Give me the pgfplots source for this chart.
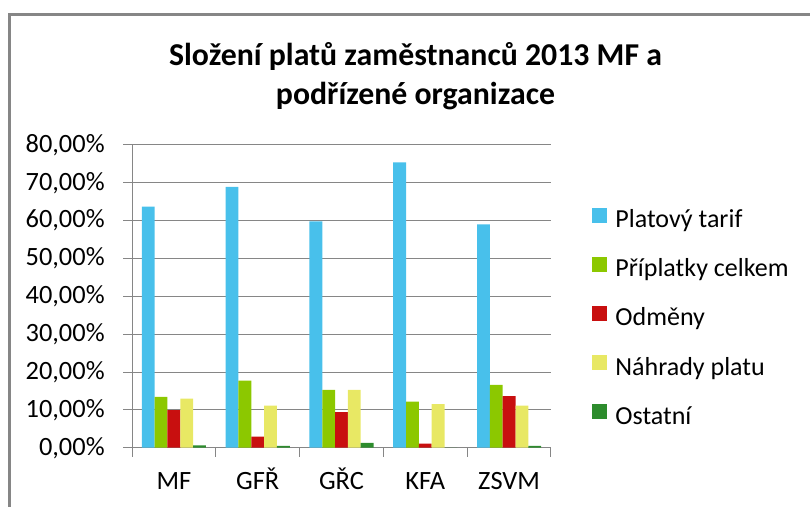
\documentclass[border=0pt]{standalone}
\usepackage{pgfplots}
\pgfplotsset{compat=1.18}
\usepackage{fontspec}
\setmainfont{Carlito}
\definecolor{cBlue}{RGB}{72,192,235}
\definecolor{cGreen}{RGB}{140,200,0}
\definecolor{cRed}{RGB}{200,15,15}
\definecolor{cYel}{RGB}{232,232,100}
\definecolor{cDkG}{RGB}{45,140,45}
\definecolor{gridg}{RGB}{134,134,134}
\begin{document}
\begin{tikzpicture}
\useasboundingbox (0,0) rectangle (405bp,253.5bp);
\begin{axis}[
  at={(66bp,29.65bp)}, anchor=south west,
  scale only axis, width=209.5bp, height=151.35bp,
  ybar=0pt, bar width=0.153,
  xmin=-0.5, xmax=4.5, ymin=0, ymax=80,
  axis lines*=left,
  axis line style={gridg, line width=0.5bp},
  tick style={gridg, line width=0.5bp},
  tick align=outside, major tick length=4.5bp,
  xtick={-0.5,0.5,...,4.5}, x tick label as interval,
  xticklabels={MF,GFŘ,GŘC,KFA,ZSVM},
  ytick={0,10,...,80},
  yticklabel={\pgfmathprintnumber[fixed,fixed zerofill,precision=2,use comma]{\tick}\%},
  /pgf/number format/assume math mode=true,
  ymajorgrids, major grid style={gridg, line width=0.5bp},
  ticklabel style={font=\fontsize{13.2bp}{15bp}\selectfont, inner sep=0pt},
  xticklabel style={text height=9bp, text depth=0pt, anchor=north, yshift=-7.15bp},
  yticklabel style={anchor=east, xshift=-9bp},
  title={Složení platů zaměstnanců 2013 MF a\\podřízené organizace},
  title style={at={(0.6766,1.074)}, anchor=south, font=\bfseries\fontsize{15.9bp}{19.5bp}\selectfont, align=center, inner sep=0pt},
  legend style={draw=none, fill=none, inner sep=0pt, at={(1.0979,0.4252)}, anchor=west,
    row sep=11.55bp, column sep=4bp, font=\fontsize{13bp}{15bp}\selectfont,
    nodes={inner sep=0pt, text height=9bp, text depth=3bp}},
  legend cell align=left,
  legend image code/.code={\fill[#1] (0bp,-0.5bp) rectangle (7.5bp,7bp);},
]
\addplot[draw=none, fill=cBlue] coordinates {(0,63.7) (1,68.9) (2,59.8) (3,75.4) (4,59.0)};
\addplot[draw=none, fill=cGreen] coordinates {(0,13.4) (1,17.7) (2,15.3) (3,12.2) (4,16.6)};
\addplot[draw=none, fill=cRed] coordinates {(0,9.9) (1,2.9) (2,9.4) (3,1.1) (4,13.6)};
\addplot[draw=none, fill=cYel] coordinates {(0,13.0) (1,11.1) (2,15.3) (3,11.5) (4,11.1)};
\addplot[draw=none, fill=cDkG] coordinates {(0,0.6) (1,0.5) (2,1.3) (3,0.0) (4,0.5)};
\legend{Platový tarif, Příplatky celkem, Odměny, Náhrady platu, Ostatní}
\end{axis}
\draw[gridg, line width=1.25bp] (4.75bp,0) -- (4.75bp,246.25bp) -- (405bp,246.25bp);
\end{tikzpicture}
\end{document}
